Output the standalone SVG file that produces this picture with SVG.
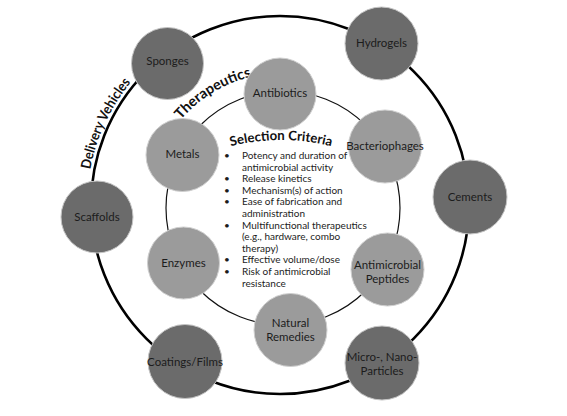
<svg xmlns="http://www.w3.org/2000/svg" width="567" height="416" viewBox="0 0 567 416">
<style>
.outer{fill:#6b6b6b;stroke:#c4c4c4;stroke-width:1}
.inner{fill:#9b9b9b;stroke:#cfcfcf;stroke-width:1}
.lbl{font-family:Lato,"Open Sans",sans-serif;font-size:11.5px;fill:#1c1c1c;text-anchor:middle}
.crit{font-family:Lato,"Open Sans",sans-serif;font-size:10px;fill:#1c1c1c}
.arcT{font-family:Lato,"Open Sans",sans-serif;font-weight:bold;fill:#111}
</style>
<defs>
<path id="pDV" d="M 88.05 184.8 A 193 193 0 0 1 145.9 66.2"/>
<path id="pTh" d="M 172.4 130.6 A 135 135 0 0 1 271.2 73.5"/>
<path id="pSC" d="M 210.2 152.5 A 207 207 0 0 1 351.8 152.5"/>
</defs>
<rect width="567" height="416" fill="#fff"/>
<g id="connectors" fill="none">
<circle cx="280" cy="205" r="189" stroke="#000" stroke-width="2.6"/>
<circle cx="283" cy="208" r="117" stroke="#111" stroke-width="1.2"/>
</g>
<g id="title-delivery"><text class="arcT" font-size="14"><textPath href="#pDV" startOffset="64" text-anchor="middle" textLength="97" lengthAdjust="spacingAndGlyphs">Delivery Vehicles</textPath></text></g>
<g id="title-therapeutics"><text class="arcT" font-size="14.5"><textPath href="#pTh" startOffset="55.6" text-anchor="middle">Therapeutics</textPath></text></g>
<g id="sponges"><circle class="outer" cx="167.5" cy="63.5" r="36"/><text class="lbl" x="167.5" y="65">Sponges</text></g>
<g id="hydrogels"><circle class="outer" cx="381.5" cy="43.5" r="36.5"/><text class="lbl" x="381.5" y="47">Hydrogels</text></g>
<g id="cements"><circle class="outer" cx="470" cy="197" r="37"/><text class="lbl" x="470" y="201">Cements</text></g>
<g id="micro-nano"><circle class="outer" cx="382" cy="363" r="37"/><text class="lbl" x="382" y="361">Micro-, Nano-</text><text class="lbl" x="382" y="375">Particles</text></g>
<g id="coatings"><circle class="outer" cx="185" cy="361.5" r="37"/><text class="lbl" x="185" y="366">Coatings/Films</text></g>
<g id="scaffolds"><circle class="outer" cx="97" cy="217" r="36"/><text class="lbl" x="97" y="221">Scaffolds</text></g>
<g id="antibiotics"><circle class="inner" cx="280" cy="94" r="36"/><text class="lbl" x="280" y="97">Antibiotics</text></g>
<g id="bacteriophages"><circle class="inner" cx="385" cy="146.5" r="36.5"/><text class="lbl" x="385" y="150">Bacteriophages</text></g>
<g id="amp"><circle class="inner" cx="387.5" cy="269.5" r="36.5"/><text class="lbl" x="387.5" y="269">Antimicrobial</text><text class="lbl" x="387.5" y="283">Peptides</text></g>
<g id="natural"><circle class="inner" cx="290.5" cy="330" r="36.5"/><text class="lbl" x="290.5" y="327">Natural</text><text class="lbl" x="290.5" y="341">Remedies</text></g>
<g id="enzymes"><circle class="inner" cx="183.5" cy="263" r="36"/><text class="lbl" x="183.5" y="267">Enzymes</text></g>
<g id="metals"><circle class="inner" cx="182.5" cy="155" r="36.5"/><text class="lbl" x="182.5" y="158">Metals</text></g>
<g id="criteria">
<text class="arcT" font-size="13.2"><textPath href="#pSC" startOffset="72.3" text-anchor="middle">Selection Criteria</textPath></text>
<g class="crit">
<text x="224" y="159">•</text><text x="242" y="159">Potency and duration of</text>
<text x="242" y="170.6">antimicrobial activity</text>
<text x="224" y="182.2">•</text><text x="242" y="182.2">Release kinetics</text>
<text x="224" y="193.8">•</text><text x="242" y="193.8">Mechanism(s) of action</text>
<text x="224" y="205.4">•</text><text x="242" y="205.4">Ease of fabrication and</text>
<text x="242" y="217">administration</text>
<text x="224" y="228.6">•</text><text x="242" y="228.6">Multifunctional therapeutics</text>
<text x="242" y="240.2">(e.g., hardware, combo</text>
<text x="242" y="251.8">therapy)</text>
<text x="224" y="263.4">•</text><text x="242" y="263.4">Effective volume/dose</text>
<text x="224" y="275">•</text><text x="242" y="275">Risk of antimicrobial</text>
<text x="242" y="286.6">resistance</text>
</g>
</g>
</svg>
